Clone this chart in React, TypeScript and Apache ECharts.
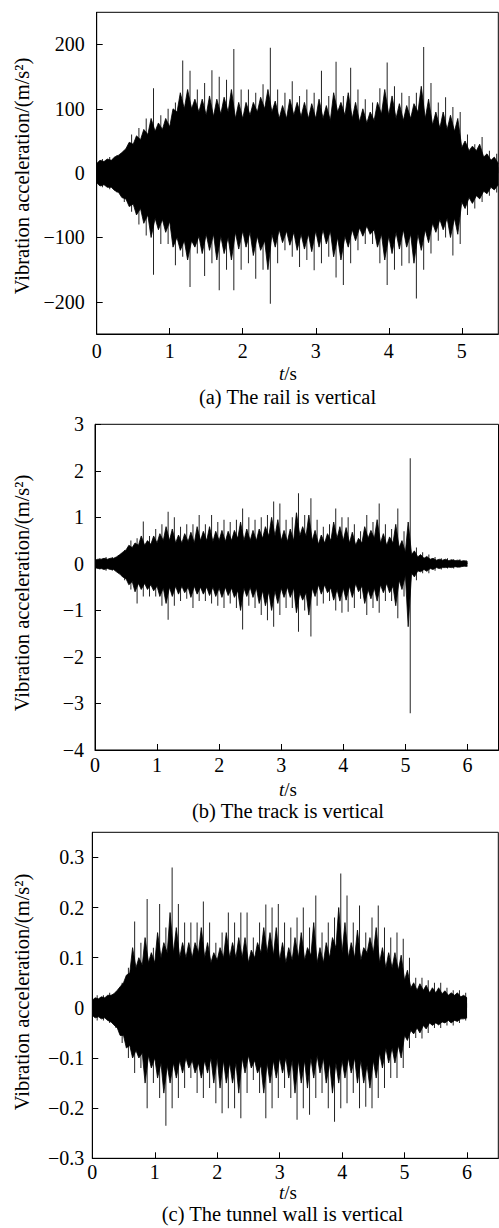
import React, { useEffect, useRef } from "react";
import * as echarts from "echarts";

// ---- time sampling (s) ----
const STEP = 0.1;

// ---- tick labels ----
const X_TICKS_A = [0, 1, 2, 3, 4, 5];
const X_TICKS_BC = [0, 1, 2, 3, 4, 5, 6];
const Y_TICKS_A = [-200, -100, 0, 100, 200];
const Y_TICKS_B = [-4, -3, -2, -1, 0, 1, 2, 3];
const Y_TICKS_C = [-0.3, -0.2, -0.1, 0, 0.1, 0.2, 0.3];

// ---- captions ----
const CAPTIONS = ["(a) The rail is vertical", "(b) The track is vertical", "(c) The tunnel wall is vertical"];
const Y_NAME = "Vibration acceleration/(m/s\u00B2)";

// ---- (a) rail: dense-core envelope at t = 0, 0.1, ... 5.5 s ----
const coreUpA = [15,18,20,28,38,45,52,60,65,68,72,95,100,100,95,90,88,92,95,85,85,90,95,100,95,85,85,90,88,85,85,85,82,95,90,85,80,78,82,92,90,85,82,85,95,85,75,70,68,65,40,35,35,25,20,15];
const coreDnA = [-15,-18,-22,-30,-40,-48,-55,-65,-70,-72,-75,-100,-105,-105,-98,-95,-95,-98,-100,-92,-90,-92,-98,-105,-95,-88,-90,-92,-95,-95,-90,-88,-90,-100,-98,-88,-85,-82,-88,-95,-98,-92,-88,-95,-95,-88,-78,-72,-70,-70,-45,-38,-35,-28,-22,-18];
// per 0.1 s bin: secondary (haze) extent and highest peak
const midUpA = [20,22,25,32,48,58,68,85,78,85,100,125,130,115,115,120,115,118,130,110,110,110,118,130,112,105,115,110,110,108,115,105,125,110,125,110,100,95,110,130,120,108,105,108,135,115,95,95,90,85,50,42,45,30,25];
const midDnA = [-20,-22,-27,-38,-52,-65,-78,-100,-88,-92,-115,-120,-135,-115,-125,-120,-135,-125,-135,-118,-115,-128,-120,-150,-115,-108,-112,-120,-118,-122,-115,-110,-130,-135,-115,-105,-98,-95,-115,-135,-125,-118,-115,-140,-120,-108,-92,-88,-100,-95,-55,-47,-40,-32,-26];
const peakUpA = [22,25,28,35,60,70,85,132,90,100,110,175,159,130,140,160,150,145,193,130,130,125,138,195,130,125,143,120,130,125,159,120,173,120,164,130,115,110,132,172,135,125,120,125,196,140,110,118,103,95,60,45,56,35,30];
const peakDnA = [-22,-25,-30,-45,-60,-80,-97,-158,-110,-110,-143,-130,-177,-125,-160,-140,-182,-150,-182,-150,-140,-164,-150,-203,-140,-120,-130,-146,-135,-151,-140,-130,-162,-174,-140,-120,-110,-110,-140,-174,-150,-144,-140,-195,-150,-125,-105,-100,-128,-110,-65,-55,-45,-35,-30];

// ---- (b) track ----
const coreUpB = [0.08,0.1,0.1,0.12,0.2,0.3,0.35,0.4,0.4,0.42,0.45,0.5,0.5,0.45,0.45,0.48,0.45,0.5,0.5,0.48,0.5,0.48,0.5,0.55,0.5,0.5,0.5,0.55,0.6,0.6,0.5,0.48,0.5,0.6,0.6,0.5,0.42,0.45,0.5,0.55,0.5,0.45,0.4,0.45,0.55,0.55,0.45,0.4,0.45,0.35,0.25,0.2,0.15,0.12,0.1,0.08,0.08,0.07,0.07,0.06,0.05];
const coreDnB = [-0.08,-0.1,-0.1,-0.12,-0.22,-0.32,-0.38,-0.42,-0.42,-0.45,-0.48,-0.52,-0.5,-0.48,-0.48,-0.5,-0.48,-0.5,-0.5,-0.5,-0.52,-0.5,-0.52,-0.58,-0.52,-0.5,-0.52,-0.58,-0.6,-0.58,-0.52,-0.5,-0.52,-0.62,-0.62,-0.52,-0.45,-0.45,-0.52,-0.55,-0.52,-0.48,-0.42,-0.48,-0.55,-0.52,-0.45,-0.42,-0.48,-0.35,-0.25,-0.2,-0.15,-0.12,-0.1,-0.08,-0.08,-0.07,-0.06,-0.06,-0.05];
const midUpB = [0.1,0.12,0.12,0.15,0.25,0.4,0.45,0.6,0.5,0.6,0.65,0.8,0.75,0.62,0.65,0.68,0.8,0.7,0.8,0.7,0.72,0.7,0.72,0.9,0.75,0.72,0.75,0.8,1.0,0.95,0.72,0.75,1.1,0.8,1.05,0.72,0.62,0.65,0.9,0.8,0.78,0.68,0.55,0.8,0.72,0.95,0.65,0.58,0.85,0.5,0.9,0.28,0.2,0.16,0.12,0.1,0.1,0.09,0.08,0.07];
const midDnB = [-0.1,-0.12,-0.12,-0.17,-0.28,-0.45,-0.6,-0.55,-0.55,-0.58,-0.7,-0.85,-0.7,-0.65,-0.62,-0.72,-0.65,-0.65,-0.68,-0.7,-0.72,-0.68,-0.72,-1.0,-0.7,-0.72,-0.85,-0.9,-1.0,-0.85,-0.72,-0.72,-1.05,-0.78,-1.1,-0.7,-0.65,-0.62,-0.78,-0.8,-0.78,-0.72,-0.6,-0.85,-0.75,-0.8,-0.62,-0.62,-0.9,-0.55,-1.35,-0.28,-0.17,-0.16,-0.12,-0.1,-0.08,-0.08,-0.07,-0.05];
const peakUpB = [0.12,0.15,0.15,0.18,0.3,0.5,0.55,0.91,0.6,0.75,0.85,1.12,1.0,0.8,0.85,0.85,1.05,0.85,1.05,0.9,0.95,0.9,0.95,1.19,1.0,0.95,1.0,1.05,1.34,1.3,0.95,1.0,1.52,1.05,1.41,0.95,0.8,0.85,1.19,1.0,1.0,0.85,0.7,1.05,0.9,1.3,0.85,0.75,1.19,0.7,2.27,0.35,0.25,0.2,0.15,0.12,0.12,0.1,0.1,0.08];
const peakDnB = [-0.12,-0.15,-0.15,-0.2,-0.35,-0.55,-0.85,-0.7,-0.7,-0.7,-0.9,-1.2,-0.9,-0.8,-0.75,-0.95,-0.8,-0.8,-0.85,-0.9,-0.95,-0.85,-0.95,-1.41,-0.9,-0.95,-1.1,-1.21,-1.35,-1.1,-0.95,-0.95,-1.46,-1.0,-1.56,-0.9,-0.85,-0.8,-1.0,-1.05,-1.03,-0.95,-0.75,-1.1,-0.95,-1.05,-0.8,-0.8,-1.17,-0.7,-3.21,-0.35,-0.2,-0.2,-0.15,-0.12,-0.1,-0.1,-0.08,-0.06];

// ---- (c) tunnel wall ----
const coreUpC = [0.015,0.018,0.02,0.025,0.035,0.05,0.07,0.08,0.085,0.09,0.09,0.1,0.11,0.11,0.1,0.1,0.1,0.11,0.1,0.09,0.095,0.1,0.1,0.1,0.1,0.09,0.1,0.11,0.11,0.105,0.095,0.09,0.095,0.1,0.095,0.105,0.09,0.09,0.1,0.12,0.11,0.1,0.1,0.095,0.11,0.11,0.09,0.08,0.08,0.075,0.055,0.04,0.035,0.035,0.03,0.03,0.028,0.025,0.025,0.022,0.02];
const coreDnC = [-0.015,-0.018,-0.02,-0.028,-0.04,-0.055,-0.075,-0.085,-0.09,-0.095,-0.1,-0.11,-0.115,-0.11,-0.105,-0.1,-0.105,-0.11,-0.105,-0.1,-0.1,-0.105,-0.11,-0.11,-0.1,-0.095,-0.105,-0.115,-0.11,-0.105,-0.1,-0.1,-0.105,-0.105,-0.105,-0.1,-0.095,-0.1,-0.11,-0.11,-0.105,-0.1,-0.1,-0.105,-0.115,-0.105,-0.09,-0.08,-0.08,-0.075,-0.055,-0.045,-0.04,-0.035,-0.03,-0.03,-0.028,-0.025,-0.025,-0.022,-0.02];
const midUpC = [0.02,0.022,0.025,0.028,0.042,0.065,0.12,0.1,0.14,0.11,0.15,0.13,0.19,0.16,0.13,0.13,0.13,0.16,0.13,0.11,0.12,0.15,0.13,0.14,0.14,0.115,0.13,0.16,0.15,0.16,0.13,0.12,0.14,0.15,0.12,0.17,0.12,0.13,0.14,0.2,0.17,0.13,0.155,0.12,0.14,0.16,0.12,0.11,0.11,0.105,0.075,0.05,0.048,0.045,0.04,0.04,0.034,0.03,0.03,0.025];
const midDnC = [-0.02,-0.022,-0.025,-0.034,-0.055,-0.08,-0.1,-0.1,-0.15,-0.12,-0.14,-0.17,-0.15,-0.14,-0.13,-0.12,-0.13,-0.14,-0.13,-0.15,-0.16,-0.15,-0.15,-0.17,-0.13,-0.12,-0.13,-0.17,-0.15,-0.14,-0.13,-0.14,-0.17,-0.15,-0.16,-0.14,-0.13,-0.15,-0.17,-0.15,-0.14,-0.13,-0.15,-0.15,-0.16,-0.14,-0.12,-0.11,-0.11,-0.1,-0.065,-0.052,-0.05,-0.042,-0.035,-0.034,-0.03,-0.03,-0.027,-0.022];
const peakUpC = [0.025,0.025,0.03,0.03,0.05,0.08,0.172,0.13,0.217,0.12,0.207,0.16,0.28,0.207,0.17,0.17,0.17,0.212,0.17,0.13,0.15,0.19,0.17,0.19,0.19,0.14,0.17,0.206,0.2,0.207,0.17,0.16,0.18,0.2,0.16,0.224,0.15,0.17,0.18,0.268,0.224,0.17,0.204,0.15,0.18,0.204,0.16,0.14,0.15,0.138,0.1,0.06,0.06,0.055,0.05,0.05,0.04,0.035,0.035,0.03];
const peakDnC = [-0.025,-0.025,-0.03,-0.04,-0.07,-0.1,-0.13,-0.12,-0.2,-0.15,-0.18,-0.235,-0.2,-0.18,-0.16,-0.14,-0.17,-0.18,-0.16,-0.19,-0.21,-0.2,-0.2,-0.22,-0.17,-0.144,-0.17,-0.22,-0.2,-0.18,-0.16,-0.18,-0.223,-0.2,-0.213,-0.18,-0.17,-0.2,-0.227,-0.2,-0.19,-0.17,-0.2,-0.197,-0.2,-0.18,-0.16,-0.14,-0.14,-0.12,-0.08,-0.06,-0.061,-0.05,-0.04,-0.04,-0.035,-0.035,-0.03,-0.025];

const FONT = "'Liberation Serif', 'Times New Roman', Times, serif";
const FS = 20;
const FS_TITLE = 20.5;
const FS_UNIT = 19;

const r3 = (v: number) => Math.round(v * 1000) / 1000;
// outline of the dense band: core value at the bin start, haze extent inside the bin
const outline = (core: number[], mid: number[]) => {
  const out: number[][] = [];
  core.forEach((v, i) => {
    out.push([r3(i * STEP), v]);
    if (i < mid.length) out.push([r3((i + 0.45) * STEP), mid[i]]);
  });
  return out;
};
// isolated peaks drawn as hair-lines inside each bin
const spikes = (up: number[], dn: number[], frac: number) => {
  const out: number[][] = [];
  up.forEach((v, i) => out.push([r3((i + frac) * STEP), v]));
  dn.forEach((v, i) => out.push([r3((i + frac) * STEP), v]));
  return out;
};
const fmt = (v: number) => String(v).replace("-", "\u2212");

const PANELS = [
  { grid: { left: 96.7, top: 12.3, width: 401.6, height: 321.7 }, xMax: 5.5, xTicks: X_TICKS_A, yMin: -250, yMax: 250, yTicks: Y_TICKS_A, up: coreUpA, dn: coreDnA, mu: midUpA, md: midDnA, pu: peakUpA, pd: peakDnA, xMargin: 7, yMargin: 12, tsY: 373.5, capY: 397, capX: 287.5, nameY: 176 },
  { grid: { left: 95, top: 424.3, width: 403.5, height: 325.7 }, xMax: 6.5, xTicks: X_TICKS_BC, yMin: -4, yMax: 3, yTicks: Y_TICKS_B, up: coreUpB, dn: coreDnB, mu: midUpB, md: midDnB, pu: peakUpB, pd: peakDnB, xMargin: 5, yMargin: 11, tsY: 789.5, capY: 810.5, capX: 288, nameY: 593 },
  { grid: { left: 92.3, top: 832.3, width: 406, height: 326 }, xMax: 6.5, xTicks: X_TICKS_BC, yMin: -0.3, yMax: 0.35, yTicks: Y_TICKS_C, up: coreUpC, dn: coreDnC, mu: midUpC, md: midDnC, pu: peakUpC, pd: peakDnC, xMargin: 3.5, yMargin: 8, tsY: 1192.5, capY: 1213.5, capX: 282.5, nameY: 992 },
];

export default function App() {
  const ref = useRef<HTMLDivElement>(null);
  useEffect(() => {
    document.body.style.margin = "0";
    if (!ref.current) return;
    const chart = echarts.init(ref.current, null, { renderer: "svg" });
    const labelStyle = { fontFamily: FONT, fontSize: FS, color: "#000" };
    const option: any = {
      animation: false,
      backgroundColor: "#fff",
      textStyle: { fontFamily: FONT },
      grid: PANELS.map((p) => ({ ...p.grid, show: true, borderColor: "#000", borderWidth: 1, backgroundColor: "transparent" })),
      xAxis: PANELS.map((p, i) => ({
        type: "value", gridIndex: i, min: 0, max: p.xMax,
        axisLine: { show: true, onZero: false, lineStyle: { color: "#000", width: 1 } },
        axisTick: { show: true, inside: true, length: 6, customValues: p.xTicks, lineStyle: { color: "#000" } },
        axisLabel: { ...labelStyle, customValues: p.xTicks, margin: p.xMargin, formatter: fmt },
        splitLine: { show: false },
      })),
      yAxis: PANELS.map((p, i) => ({
        type: "value", gridIndex: i, min: p.yMin, max: p.yMax,
        axisLine: { show: true, onZero: false, lineStyle: { color: "#000", width: 1 } },
        axisTick: { show: true, inside: true, length: 6, customValues: p.yTicks, lineStyle: { color: "#000" } },
        axisLabel: { ...labelStyle, customValues: p.yTicks, margin: p.yMargin, formatter: fmt },
        splitLine: { show: false },
      })),
      series: PANELS.flatMap((p, i) => {
        const seam = Math.min(...p.up) * 0.6;
        return [
          { type: "bar", xAxisIndex: i, yAxisIndex: i, data: spikes(p.pu, p.pd, 0.78), barWidth: 1, itemStyle: { color: "#222" }, silent: true },
          { type: "line", xAxisIndex: i, yAxisIndex: i, data: outline(p.up, p.mu), symbol: "none", lineStyle: { color: "#000", width: 0.8 }, areaStyle: { color: "#000", opacity: 1, origin: 0 }, silent: true },
          { type: "line", xAxisIndex: i, yAxisIndex: i, data: outline(p.dn, p.md), symbol: "none", lineStyle: { color: "#000", width: 0.8 }, areaStyle: { color: "#000", opacity: 1, origin: seam }, silent: true },
        ];
      }),
      graphic: PANELS.flatMap((p, i) => [
        { type: "text", x: 288, y: p.tsY, style: { text: "{i|t}/s", fontFamily: FONT, fontSize: FS_UNIT, fill: "#000", align: "center", verticalAlign: "middle", rich: { i: { fontStyle: "italic", fontFamily: FONT, fontSize: FS_UNIT, fill: "#000" } } } },
        { type: "text", x: p.capX, y: p.capY, style: { text: CAPTIONS[i], fontFamily: FONT, fontSize: FS_TITLE, fill: "#000", align: "center", verticalAlign: "middle" } },
        { type: "text", x: 22, y: p.nameY, rotation: Math.PI / 2, style: { text: Y_NAME, fontFamily: FONT, fontSize: FS_TITLE, fill: "#000", align: "center", verticalAlign: "middle" } },
      ]),
    };
    chart.setOption(option);
    return () => chart.dispose();
  }, []);
  return <div ref={ref} style={{ width: 499, height: 1228 }} />;
}
